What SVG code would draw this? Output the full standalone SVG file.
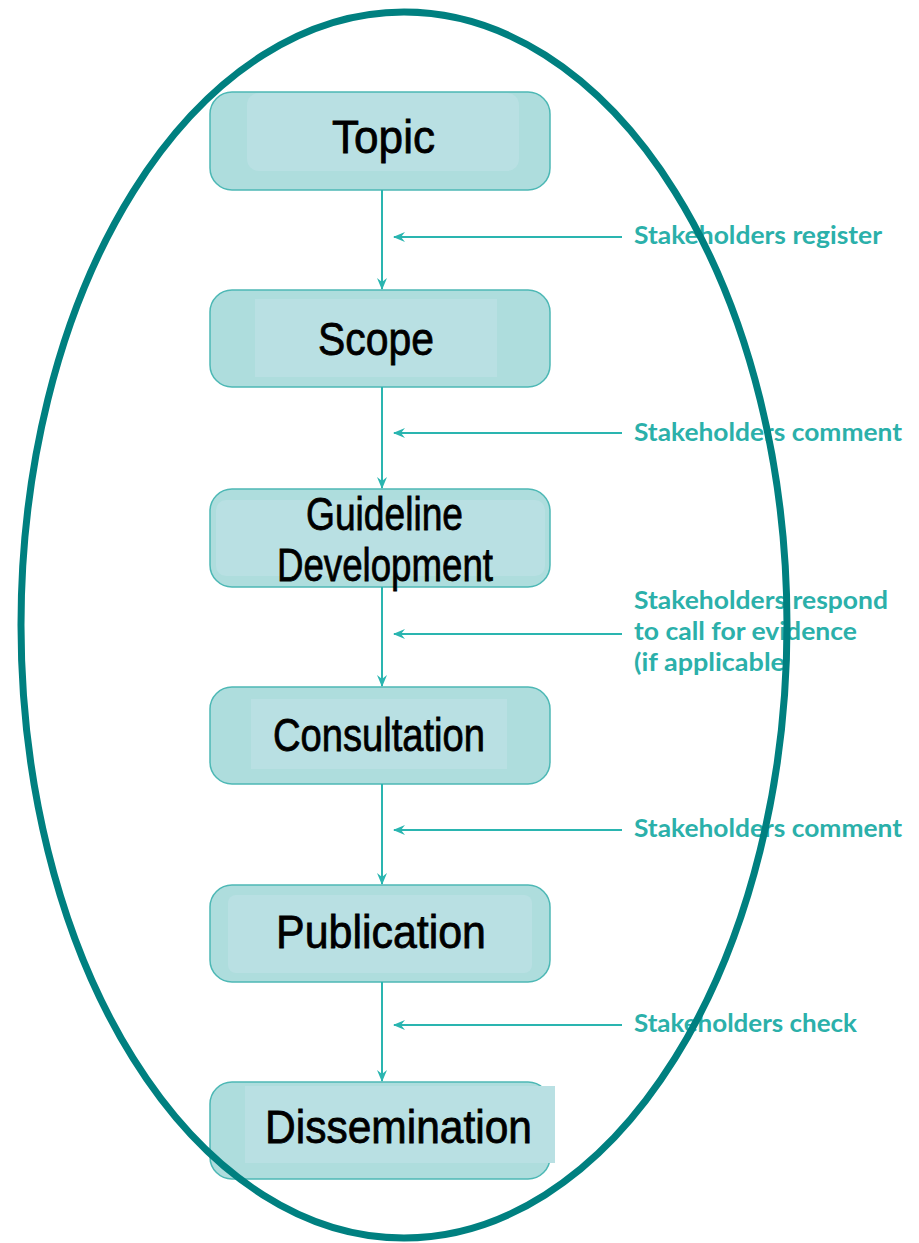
<svg xmlns="http://www.w3.org/2000/svg" width="919" height="1243" viewBox="0 0 919 1243">
<style>
.box{fill:#aedddd;stroke:#4db8b5;stroke-width:1.5}
.inner{fill:#b9e0e3}
.t{font-family:"Liberation Sans Narrow","Liberation Sans",Arial,sans-serif;font-size:47px;fill:#000;stroke:#000;stroke-width:0.8}
.lbl{font-family:Lato,"Open Sans",sans-serif;font-weight:700;font-size:24px;fill:#2bb0aa}
.con{stroke:#2ab5b0;stroke-width:2;fill:none}
</style>
<defs>
<marker id="ah" viewBox="0 0 12 10" refX="11" refY="5" markerWidth="12" markerHeight="10" markerUnits="userSpaceOnUse" orient="auto">
<path d="M0,0 L12,5 L0,10 L4,5 Z" fill="#2ab5b0"/>
</marker>
</defs>
<rect width="919" height="1243" fill="#fff"/>
<g id="node-topic">
<rect class="box" x="210" y="92" width="340" height="98" rx="22"/>
<rect class="inner" x="247" y="93" width="272" height="78" rx="12"/>
<text class="t" x="332" y="153" textLength="103" lengthAdjust="spacingAndGlyphs">Topic</text>
</g>
<g id="node-scope">
<rect class="box" x="210" y="290" width="340" height="97" rx="22"/>
<rect class="inner" x="255" y="299" width="242" height="78"/>
<text class="t" x="318" y="355" textLength="116" lengthAdjust="spacingAndGlyphs">Scope</text>
</g>
<g id="node-guideline">
<rect class="box" x="210" y="489" width="340" height="98" rx="22"/>
<rect class="inner" x="216" y="500" width="329" height="76" rx="10"/>
<text class="t" x="306" y="530" font-size="42" textLength="157" lengthAdjust="spacingAndGlyphs">Guideline</text>
<text class="t" x="277" y="581" font-size="42" textLength="216" lengthAdjust="spacingAndGlyphs">Development</text>
</g>
<g id="node-consultation">
<rect class="box" x="210" y="687" width="340" height="97" rx="22"/>
<rect class="inner" x="251" y="699" width="256" height="70"/>
<text class="t" x="273" y="751" textLength="212" lengthAdjust="spacingAndGlyphs">Consultation</text>
</g>
<g id="node-publication">
<rect class="box" x="210" y="885" width="340" height="97" rx="22"/>
<rect class="inner" x="228" y="895" width="304" height="78" rx="8"/>
<text class="t" x="276" y="948" textLength="210" lengthAdjust="spacingAndGlyphs">Publication</text>
</g>
<g id="node-dissemination">
<rect class="box" x="210" y="1082" width="340" height="97" rx="22"/>
<rect class="inner" x="245" y="1086" width="310" height="77"/>
<text class="t" x="265" y="1143" textLength="267" lengthAdjust="spacingAndGlyphs">Dissemination</text>
</g>
<g id="connectors">
<line class="con" x1="382" y1="190" x2="382" y2="289" marker-end="url(#ah)"/>
<line class="con" x1="382" y1="387" x2="382" y2="488" marker-end="url(#ah)"/>
<line class="con" x1="382" y1="587" x2="382" y2="686" marker-end="url(#ah)"/>
<line class="con" x1="382" y1="784" x2="382" y2="884" marker-end="url(#ah)"/>
<line class="con" x1="382" y1="982" x2="382" y2="1081" marker-end="url(#ah)"/>
<line class="con" x1="622" y1="237" x2="394" y2="237" marker-end="url(#ah)"/>
<line class="con" x1="622" y1="433" x2="394" y2="433" marker-end="url(#ah)"/>
<line class="con" x1="622" y1="634" x2="394" y2="634" marker-end="url(#ah)"/>
<line class="con" x1="622" y1="830" x2="394" y2="830" marker-end="url(#ah)"/>
<line class="con" x1="622" y1="1025" x2="394" y2="1025" marker-end="url(#ah)"/>
</g>
<g id="labels">
<text class="lbl" x="634" y="244" textLength="248" lengthAdjust="spacingAndGlyphs">Stakeholders register</text>
<text class="lbl" x="634" y="441" textLength="268" lengthAdjust="spacingAndGlyphs">Stakeholders comment</text>
<text class="lbl" x="634" y="609" textLength="254" lengthAdjust="spacingAndGlyphs">Stakeholders respond</text>
<text class="lbl" x="634" y="640" textLength="223" lengthAdjust="spacingAndGlyphs">to call for evidence</text>
<text class="lbl" x="634" y="671" textLength="151" lengthAdjust="spacingAndGlyphs">(if applicable</text>
<text class="lbl" x="634" y="837" textLength="268" lengthAdjust="spacingAndGlyphs">Stakeholders comment</text>
<text class="lbl" x="634" y="1032" textLength="223" lengthAdjust="spacingAndGlyphs">Stakeholders check</text>
</g>
<ellipse id="boundary" cx="404" cy="625" rx="383" ry="613" fill="none" stroke="#008080" stroke-width="7"/>
</svg>
